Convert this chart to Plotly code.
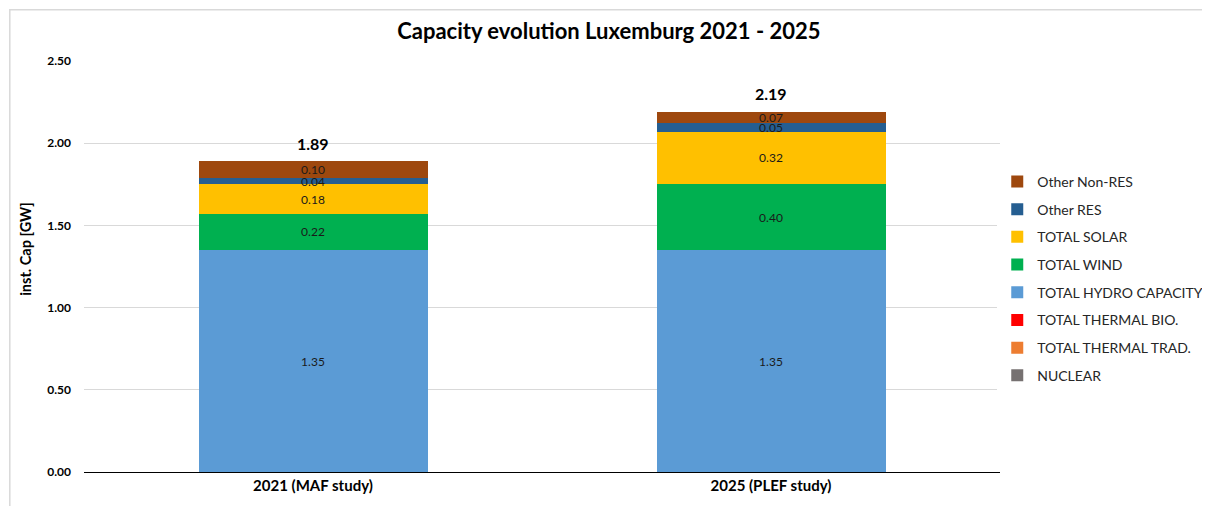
import plotly.graph_objects as go

studies = ["2021 (MAF study)", "2025 (PLEF study)"]

# stacked from bottom to top
series_names = ["NUCLEAR", "TOTAL THERMAL TRAD.", "TOTAL THERMAL BIO.", "TOTAL HYDRO CAPACITY",
                "TOTAL WIND", "TOTAL SOLAR", "Other RES", "Other Non-RES"]
nuclear = [0.0, 0.0]
thermal_trad = [0.0, 0.0]
thermal_bio = [0.0, 0.0]
hydro = [1.35, 1.35]
wind = [0.22, 0.40]
solar = [0.18, 0.32]
other_res = [0.04, 0.05]
other_non_res = [0.10, 0.07]
totals = [1.89, 2.19]

colors = ["#767171", "#ED7D31", "#FF0000", "#5B9BD5", "#00B050", "#FFC000", "#255E91", "#9E480E"]
values = [nuclear, thermal_trad, thermal_bio, hydro, wind, solar, other_res, other_non_res]

font_family = "Lato, 'Open Sans', sans-serif"

fig = go.Figure()
for i, (name, vals, col) in enumerate(zip(series_names, values, colors)):
    fig.add_trace(go.Bar(
        x=studies,
        y=vals,
        name=name,
        legendgroup=name,
        legendrank=len(series_names) - i,  # top of the stack first in legend
        marker=dict(color=col, line=dict(width=0)),
        text=[f"{v:.2f}" if v > 0 else "" for v in vals],
        textposition="inside",
        insidetextanchor="middle",
        textfont=dict(size=12, color="#1a1a1a", family=font_family),
        textangle=0,
        hoverinfo="skip",
    ))

# totals above the stacks
for s, t in zip(studies, totals):
    fig.add_annotation(x=s, y=t, text=f"<b>{t:.2f}</b>", showarrow=False,
                       yshift=18, font=dict(size=16, color="black", family=font_family))

# y axis title
fig.add_annotation(xref="paper", yref="paper", x=-0.0633, y=0.543, textangle=-90,
                   text="<b>inst. Cap [GW]</b>", showarrow=False, xanchor="center", yanchor="middle",
                   font=dict(size=14.5, color="black", family=font_family))

# chart frame
fig.add_shape(type="rect", xref="paper", yref="paper",
              x0=-0.081, x1=1.3, y0=-0.12, y1=1.125,
              line=dict(color="#D9D9D9", width=1.5), fillcolor="rgba(0,0,0,0)", layer="below")

fig.update_layout(
    barmode="stack",
    bargap=0.5,
    width=1194, height=498,
    margin=dict(l=76, r=202, t=53, b=34, autoexpand=False),
    plot_bgcolor="white",
    paper_bgcolor="white",
    font=dict(family=font_family, color="black"),
    title=dict(text="<b>Capacity evolution Luxemburg 2021 - 2025</b>", xref="paper", x=0.573,
               xanchor="center", y=0.954, yanchor="middle", font=dict(size=22, color="black")),
    legend=dict(traceorder="grouped", x=0.997, xanchor="left", y=0.47, yanchor="middle",
                font=dict(size=14, color="#262626"), itemwidth=30, tracegroupgap=6.5),
    uniformtext=dict(minsize=12, mode="show"),
)

fig.update_xaxes(showline=True, linecolor="black", linewidth=1,
                 tickfont=dict(size=15, color="black"), ticks="",
                 ticktext=[f"<b>{s}</b>" for s in studies], tickvals=studies)
fig.update_yaxes(range=[0, 2.5], dtick=0.5, tickformat=".2f",
                 showgrid=True, gridcolor="#D9D9D9", gridwidth=1,
                 zeroline=False, showline=False,
                 tickfont=dict(size=12, color="black"),
                 ticklabelstandoff=12,
                 tickprefix="<b>", ticksuffix="</b>")

fig.write_html("out.html")
